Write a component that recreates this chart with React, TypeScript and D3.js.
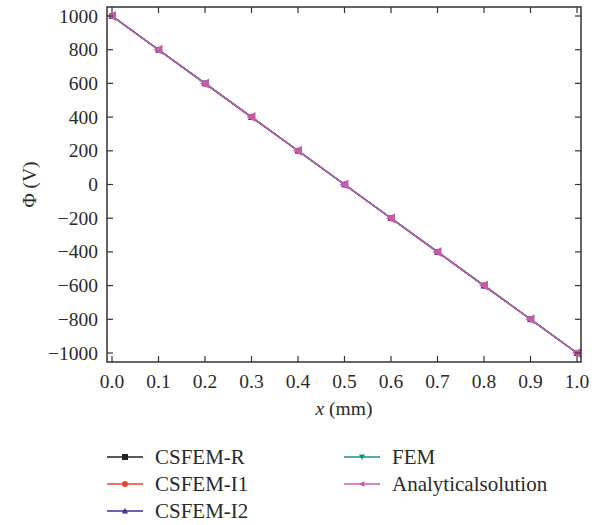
import React from "react";
import * as d3 from "d3";

const xValues = [0, 0.1, 0.2, 0.3, 0.4, 0.5, 0.6, 0.7, 0.8, 0.9, 1.0];
const csfemR = [1000, 800, 600, 400, 200, 0, -200, -400, -600, -800, -1000];
const csfemI1 = [1000, 800, 600, 400, 200, 0, -200, -400, -600, -800, -1000];
const csfemI2 = [1000, 800, 600, 400, 200, 0, -200, -400, -600, -800, -1000];
const fem = [1000, 800, 600, 400, 200, 0, -200, -400, -600, -800, -1000];
const analytical = [1000, 800, 600, 400, 200, 0, -200, -400, -600, -800, -1000];
const seriesNames = ["CSFEM-R", "CSFEM-I1", "CSFEM-I2", "FEM", "Analyticalsolution"];
const seriesColors = ["#222222", "#e8452c", "#3e2d9c", "#17908c", "#c85aa8"];
const seriesSymbols = ["square", "circle", "triangle", "triangleDown", "triangleLeft"];
const xTicks = [0, 0.1, 0.2, 0.3, 0.4, 0.5, 0.6, 0.7, 0.8, 0.9, 1.0];
const yTicks = [1000, 800, 600, 400, 200, 0, -200, -400, -600, -800, -1000];

const FONT = "'Liberation Serif', 'DejaVu Serif', serif";

function marker(sym: string, x: number, y: number, color: string, s = 3.5) {
  switch (sym) {
    case "square":
      return <rect x={x - s} y={y - s} width={2 * s} height={2 * s} fill={color} />;
    case "circle":
      return <circle cx={x} cy={y} r={s} fill={color} />;
    case "triangle":
      return <path d={`M${x},${y - s}L${x + s},${y + s * 0.8}L${x - s},${y + s * 0.8}Z`} fill={color} />;
    case "triangleDown":
      return <path d={`M${x},${y + s}L${x + s},${y - s * 0.8}L${x - s},${y - s * 0.8}Z`} fill={color} />;
    default:
      return <path d={`M${x - s},${y}L${x + s * 0.8},${y - s}L${x + s * 0.8},${y + s}Z`} fill={color} />;
  }
}

export default function App() {
  const W = 600, H = 525;
  const left = 107, right = 581, top = 7, bottom = 362;
  const x = d3.scaleLinear().domain([0, 1]).range([112, 577]);
  const y = d3.scaleLinear().domain([-1000, 1000]).range([353, 16]);
  const data = [csfemR, csfemI1, csfemI2, fem, analytical];
  const line = d3.line<number>().x((_, i) => x(xValues[i])).y((d) => y(d));
  const tl = 6;
  const markerSizes = [2.5, 3, 3.5, 3.5, 5];
  const legendLeft = [
    { i: 0, lx: 107, ly: 457 },
    { i: 1, lx: 107, ly: 484 },
    { i: 2, lx: 107, ly: 511 },
    { i: 3, lx: 344, ly: 457 },
    { i: 4, lx: 344, ly: 484 },
  ];
  return (
    <svg width={W} height={H} style={{ position: "absolute", left: 0, top: 0 }} fontFamily={FONT}>
      {data.map((d, si) => (
        <g key={si}>
          <path d={line(d) || ""} fill="none" stroke={seriesColors[si]} strokeWidth={1.4} />
          {d.map((v, i) => (
            <g key={i}>{marker(seriesSymbols[si], x(xValues[i]), y(v), seriesColors[si], markerSizes[si])}</g>
          ))}
        </g>
      ))}
      <rect x={left} y={top} width={right - left} height={bottom - top} fill="none" stroke="#333" strokeWidth={1.5} />
      {xTicks.map((t) => (
        <g key={t}>
          <line x1={x(t)} x2={x(t)} y1={bottom} y2={bottom - tl} stroke="#333" strokeWidth={1.2} />
          <line x1={x(t)} x2={x(t)} y1={top} y2={top + tl} stroke="#333" strokeWidth={1.2} />
          <text x={x(t)} y={bottom + 26} textAnchor="middle" fontSize={19.5} fill="#2a2a2a">
            {t.toFixed(1)}
          </text>
        </g>
      ))}
      {yTicks.map((t) => (
        <g key={t}>
          <line x1={left} x2={left + tl} y1={y(t)} y2={y(t)} stroke="#333" strokeWidth={1.2} />
          <line x1={right} x2={right - tl} y1={y(t)} y2={y(t)} stroke="#333" strokeWidth={1.2} />
          <text x={98} y={y(t) + 6.5} textAnchor="end" fontSize={19.5} fill="#2a2a2a">
            {t < 0 ? "\u2212" + Math.abs(t) : String(t)}
          </text>
        </g>
      ))}
      <text x={344} y={415} textAnchor="middle" fontSize={19.5} fill="#2a2a2a">
        <tspan fontStyle="italic">x</tspan> (mm)
      </text>
      <text transform={`translate(36,${(top + bottom) / 2}) rotate(-90)`} textAnchor="middle" fontSize={19.5} fill="#2a2a2a">
        Φ (V)
      </text>
      {legendLeft.map(({ i, lx, ly }) => (
        <g key={i}>
          <line x1={lx} x2={lx + 36} y1={ly} y2={ly} stroke={seriesColors[i]} strokeWidth={1.4} />
          {marker(seriesSymbols[i], lx + 18, ly, seriesColors[i], 3)}
          <text x={lx + 48} y={ly + 7} fontSize={21} fill="#2a2a2a">
            {seriesNames[i]}
          </text>
        </g>
      ))}
    </svg>
  );
}
